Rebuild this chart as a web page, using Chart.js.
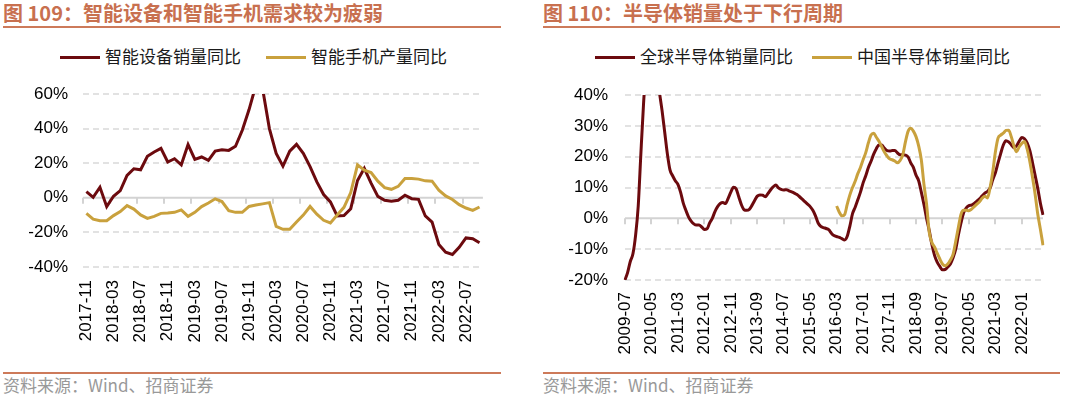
<!DOCTYPE html>
<html>
<head>
<meta charset="utf-8">
<script src="https://cdn.jsdelivr.net/npm/chart.js@4.4.0/dist/chart.umd.min.js"></script>
<style>
    html, body { margin: 0; padding: 0; background: #fff; }
    body { width: 1080px; height: 397px; position: relative; overflow: hidden; font-family: "Noto Sans CJK SC", sans-serif; }
    .title { position: absolute; top: 2px; font-weight: bold; font-size: 20px; line-height: 22px; color: #C8704F; white-space: nowrap; }
    .rule { position: absolute; height: 2px; background: #CD7A5A; }
    .legend { position: absolute; top: 46px; font-size: 17px; line-height: 20px; color: #1a1a1a; white-space: nowrap; }
    .legend i { display: inline-block; width: 40px; height: 3px; vertical-align: middle; margin-right: 5px; position: relative; top: -1px; }
    .source { position: absolute; top: 375px; font-size: 17px; line-height: 20px; color: #999; white-space: nowrap; }
    .box { position: absolute; top: 80px; height: 290px; }
</style>
</head>
<body>
<div class="title" style="left:3px">图 109：智能设备和智能手机需求较为疲弱</div>
<div class="rule" style="left:3px;width:498px;top:26px"></div>
<div class="title" style="left:543px">图 110：半导体销量处于下行周期</div>
<div class="rule" style="left:543px;width:517px;top:26px"></div>

<div class="legend" style="left:60px"><i style="background:#6C0A0E"></i>智能设备销量同比</div>
<div class="legend" style="left:266px"><i style="background:#C9A13D"></i>智能手机产量同比</div>
<div class="legend" style="left:595px"><i style="background:#6C0A0E"></i>全球半导体销量同比</div>
<div class="legend" style="left:812px"><i style="background:#C9A13D"></i>中国半导体销量同比</div>

<div class="box" style="left:0;width:500px"><canvas id="left"></canvas></div>
<div class="box" style="left:540px;width:540px"><canvas id="right"></canvas></div>

<div class="rule" style="left:3px;width:498px;top:372px"></div>
<div class="rule" style="left:543px;width:517px;top:372px"></div>
<div class="source" style="left:3px">资料来源：Wind、招商证券</div>
<div class="source" style="left:543px">资料来源：Wind、招商证券</div>

<script>
// left chart: monthly, 2017-11 .. 2022-09
var leftStart = '2017-11';
var leftTickLabels = ['2017-11', '2018-03', '2018-07', '2018-11', '2019-03', '2019-07', '2019-11', '2020-03',
    '2020-07', '2020-11', '2021-03', '2021-07', '2021-11', '2022-03', '2022-07'];
var deviceSales = [
    3.6, 0.3, 6.1, -5.1, 0.9, 4.2, 12.9, 16.8, 16.2, 24.0,
    26.5, 28.6, 20.7, 22.6, 19.1, 30.8, 22.2, 23.6, 21.6, 27.0,
    27.8, 27.4, 29.8, 39.0, 51.0, 65.0, 63.0, 40.0, 25.7, 18.3,
    27.0, 30.9, 25.7, 18.0, 9.2, 1.9, -2.4, -10.5, -10.2, -6.3,
    10.0, 17.0, 8.5, 0.8, -1.4, -2.0, -1.4, 1.5, -0.5, -0.9,
    -10.5, -14.0, -27.0, -31.5, -32.8, -28.6, -23.2, -23.7, -26.0
];
var phoneOutput = [
    -9.0, -12.3, -13.3, -13.3, -10.3, -8.0, -4.5, -6.5, -9.9, -11.9,
    -10.7, -9.0, -8.8, -8.4, -7.0, -10.7, -8.4, -5.1, -3.0, -0.6,
    -2.2, -7.4, -8.4, -8.4, -5.0, -4.2, -3.5, -2.8, -16.5, -18.2,
    -18.2, -14.0, -10.0, -5.0, -9.5, -13.0, -14.5, -10.0, -5.5, 3.0,
    19.0, 16.0, 14.6, 9.6, 5.9, 4.9, 6.6, 11.2, 11.2, 10.8,
    9.8, 9.6, 4.4, 1.1, -1.0, -4.0, -5.9, -7.3, -5.3
];

// right chart: monthly, 2009-07 .. 2022-09
var rightStart = '2009-07';
var rightTickLabels = ['2009-07', '2010-05', '2011-03', '2012-01', '2012-11', '2013-09', '2014-07', '2015-05',
    '2016-03', '2017-01', '2017-11', '2018-09', '2019-07', '2020-05', '2021-03', '2022-01'];
var globalSales = [
    -20, -17.5, -14, -11.5, -5.5, 4, 21, 37, 50, 57,
    58, 54, 48, 41, 35, 28, 21, 15.7, 13.8, 12.2,
    11, 8.5, 5, 2.6, 0.5, -0.9, -1.8, -2.2, -2.2, -2.8,
    -3.6, -3.4, -1.5, 0, 2.2, 3.8, 4.8, 5.1, 4.8, 6.5,
    8.5, 10.1, 9.6, 7, 4.4, 2.8, 2.6, 2.9, 4.2, 5.8,
    7.2, 7.6, 7.5, 7.0, 8, 9.2, 10.2, 10.8, 9.9, 9.4,
    9.2, 9.3, 8.9, 8.6, 8.2, 7.7, 7.0, 6.2, 5.4, 4.6,
    3.8, 2.6, 0.8, -1.5, -2.6, -3.0, -3.3, -3.7, -4.8, -5.6,
    -5.9, -6.2, -6.6, -7.0, -5.8, -2.5, 1.5, 3.6, 6, 8.5,
    11.5, 13.8, 16.5, 18.5, 20.8, 22.6, 23.8, 23.8, 22.8, 22.0,
    21.8, 22, 22, 21.2, 20.6, 20.6, 20.5, 19.9, 18, 16.5,
    14, 12.2, 8.5, 4.5, 0, -4, -8.5, -12, -14.2, -15.6,
    -16.7, -16.6, -15.8, -14.8, -12.8, -10, -5.5, -1.5, 1.8, 3.4,
    4.1, 4.3, 4.8, 5.6, 6.3, 7.3, 8.2, 8.7, 9.8, 12.5,
    14.8, 18, 21, 23.8, 25.2, 24.8, 23.9, 22.9, 23.5, 25,
    26.2, 25.8, 24.5, 22, 18.2, 14, 9.8, 5, 1.1
];
// China series starts 2016-03
var chinaStart = '2016-03';
var chinaSales = [
    4.0, 2.0, 0.8, 1.2, 4.5, 7.6, 10, 12, 14.5, 16.5,
    19, 21.3, 24.5, 27, 27.6, 26.3, 25, 23.3, 21.6, 20.3,
    19.3, 19, 18.6, 18, 18.8, 20.6, 24.8, 28.2, 29.2, 28.3,
    26.5, 23.5, 19, 11, 4.5, -4.5, -7.8, -9.3, -11.3, -13.2,
    -14.8, -15.4, -14.8, -13.5, -11.7, -7.5, -3, 1.3, 2.6, 2.6,
    2.5, 3.0, 3.8, 4.6, 5.4, 6.5, 7.2, 6.6, 10, 15,
    21.5, 26, 27, 27.6, 28.5, 28.6, 26.5, 23.5, 21.6, 23.2,
    24.3, 24.9, 22.5, 18.5, 13.5, 8, 1.5, -3.5, -8.7
];

var darkRed = '#6C0A0E';
var gold = '#C9A13D';
var tickFont = { family: '"Liberation Sans", Arial, sans-serif', size: 17 };

function monthLabels(start, count) {
    var parts = start.split('-');
    var y = Number(parts[0]);
    var m = Number(parts[1]);
    var out = [];
    for (var i = 0; i < count; i++) {
        out.push(y + '-' + (m < 10 ? '0' + m : m));
        m++;
        if (m > 12) { m = 1; y++; }
    }
    return out;
}

// zero line with small tick marks hanging below it, like the Excel axis
var zeroAxis = {
    id: 'zeroAxis',
    beforeDatasetsDraw: function (chart, args, opts) {
        var xs = chart.scales.x;
        var ys = chart.scales.y;
        var ctx = chart.ctx;
        var y0 = ys.getPixelForValue(0);
        var shift = opts.between ? (xs.getPixelForValue(1) - xs.getPixelForValue(0)) / 2 : 0;
        var labels = chart.data.labels;
        ctx.save();
        ctx.strokeStyle = '#D3D3D3';
        ctx.lineWidth = 2;
        ctx.beginPath();
        ctx.moveTo(chart.chartArea.left, y0);
        ctx.lineTo(chart.chartArea.right, y0);
        for (var i = 0; i < labels.length; i++) {
            if (opts.ticks.indexOf(labels[i]) < 0) continue;
            var px = Math.round(xs.getPixelForValue(i) - shift);
            ctx.moveTo(px, y0);
            ctx.lineTo(px, y0 + 6);
        }
        ctx.stroke();
        ctx.restore();
    }
};

function buildOptions(o) {
    return {
        responsive: true,
        maintainAspectRatio: false,
        animation: false,
        layout: { padding: { left: 0, right: o.padRight, top: o.padTop, bottom: 0 } },
        plugins: {
            legend: { display: false },
            tooltip: { enabled: false },
            zeroAxis: { between: o.between, ticks: o.tickLabels }
        },
        scales: {
            x: {
                offset: o.between,
                grid: { display: false, drawTicks: false },
                border: { display: false },
                ticks: {
                    autoSkip: false,
                    minRotation: 90,
                    maxRotation: 90,
                    padding: o.xPad,
                    color: '#000',
                    font: tickFont,
                    callback: function (value) {
                        var label = this.getLabelForValue(value);
                        return o.tickLabels.indexOf(label) >= 0 ? label : null;
                    }
                },
                afterFit: function (scale) { scale.height = o.xHeight; }
            },
            y: {
                min: o.min,
                max: o.max,
                grid: {
                    drawTicks: false,
                    lineWidth: 2,
                    color: function (ctx) {
                        return ctx.tick && ctx.tick.value === 0 ? 'rgba(0,0,0,0)' : '#E2E2E2';
                    }
                },
                border: { display: false, dash: [6, 4] },
                ticks: {
                    stepSize: o.step,
                    padding: o.yPad,
                    color: '#000',
                    font: tickFont,
                    callback: function (value) { return value + '%'; }
                },
                afterFit: function (scale) {
                    scale.width = o.yWidth;
                    // keep the plot top where the layout padding puts it
                    scale.paddingTop = 0;
                    scale.paddingBottom = 0;
                }
            }
        }
    };
}

var leftLabels = monthLabels(leftStart, deviceSales.length);
new Chart(document.getElementById('left'), {
    type: 'line',
    data: {
        labels: leftLabels,
        datasets: [
            { label: '智能设备销量同比', data: deviceSales, borderColor: darkRed, borderWidth: 3, pointRadius: 0, tension: 0, order: 2 },
            { label: '智能手机产量同比', data: phoneOutput, borderColor: gold, borderWidth: 3, pointRadius: 0, tension: 0, order: 1 }
        ]
    },
    options: buildOptions({
        between: true, tickLabels: leftTickLabels, min: -40, max: 60, step: 20,
        padTop: 14, padRight: 15, xPad: 13, xHeight: 103, yPad: 15, yWidth: 83
    }),
    plugins: [zeroAxis]
});

var rightLabels = monthLabels(rightStart, globalSales.length);
var chinaOffset = rightLabels.indexOf(chinaStart);
var chinaPadded = [];
for (var k = 0; k < chinaOffset; k++) chinaPadded.push(null);
chinaPadded = chinaPadded.concat(chinaSales);

new Chart(document.getElementById('right'), {
    type: 'line',
    data: {
        labels: rightLabels,
        datasets: [
            { label: '全球半导体销量同比', data: globalSales, borderColor: darkRed, borderWidth: 3, pointRadius: 0, cubicInterpolationMode: 'monotone', order: 2 },
            { label: '中国半导体销量同比', data: chinaPadded, borderColor: gold, borderWidth: 3, pointRadius: 0, cubicInterpolationMode: 'monotone', order: 1 }
        ]
    },
    options: buildOptions({
        between: false, tickLabels: rightTickLabels, min: -20, max: 40, step: 10,
        padTop: 15, padRight: 37, xPad: 12, xHeight: 90, yPad: 17, yWidth: 85
    }),
    plugins: [zeroAxis]
});
</script>
</body>
</html>
